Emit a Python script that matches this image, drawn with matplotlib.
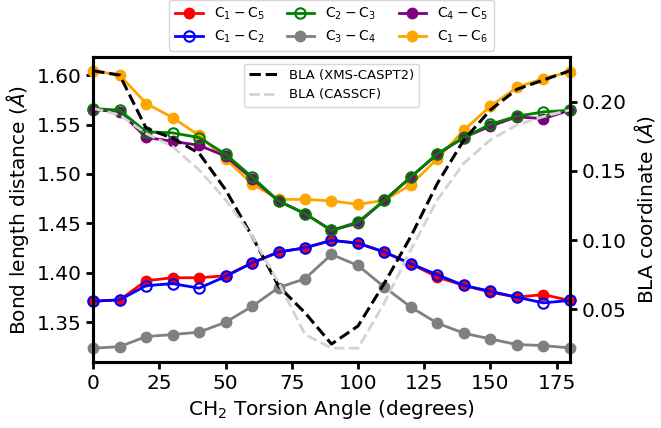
import numpy as np
import matplotlib.pyplot as plt

angle = [0, 10, 20, 30, 40, 50, 60, 70, 80, 90, 100, 110, 120, 130, 140, 150, 160, 170, 180]

c1_c5 = [1.3713, 1.3726, 1.392, 1.395, 1.395, 1.397, 1.410, 1.421, 1.4253, 1.4328,
         1.430, 1.421, 1.4091, 1.3956, 1.3872, 1.3804, 1.3753, 1.378, 1.372]
c1_c2 = [1.3713, 1.3726, 1.387, 1.389, 1.3845, 1.3963, 1.410, 1.421, 1.4253, 1.4328,
         1.430, 1.421, 1.4091, 1.398, 1.3872, 1.3814, 1.3753, 1.3696, 1.372]
c2_c3 = [1.5662, 1.5645, 1.5426, 1.5416, 1.5368, 1.520, 1.497, 1.4726, 1.4598, 1.4429,
         1.4514, 1.4733, 1.497, 1.5206, 1.5368, 1.5503, 1.5584, 1.5628, 1.5645]
c3_c4 = [1.3237, 1.3253, 1.3355, 1.3375, 1.340, 1.350, 1.366, 1.385, 1.394, 1.4186,
         1.4074, 1.3855, 1.3652, 1.349, 1.3389, 1.3331, 1.3274, 1.3264, 1.324]
c4_c5 = [1.565, 1.563, 1.537, 1.533, 1.529, 1.518, 1.4953, 1.4726, 1.460, 1.4429,
         1.4503, 1.4733, 1.497, 1.520, 1.537, 1.5483, 1.5578, 1.556, 1.5645]
c1_c6 = [1.6044, 1.600, 1.5713, 1.557, 1.539, 1.5155, 1.490, 1.4743, 1.4743, 1.4727,
         1.4693, 1.4733, 1.4892, 1.5155, 1.5443, 1.5686, 1.5875, 1.5966, 1.6034]

bla_xms = [0.2223, 0.2192, 0.1808, 0.1736, 0.1628, 0.1364, 0.1028, 0.0668, 0.0476, 0.025,
           0.038, 0.069, 0.1028, 0.141, 0.1724, 0.194, 0.2089, 0.2156, 0.2223]
bla_casscf = [0.1952, 0.1904, 0.177, 0.1676, 0.1508, 0.1292, 0.1028, 0.0692, 0.032, 0.022,
              0.022, 0.0548, 0.0932, 0.1292, 0.1556, 0.1724, 0.1832, 0.1892, 0.194]

fig = plt.figure(figsize=(6.61, 4.28), dpi=100)
ax = fig.add_axes([0.141, 0.154, 0.721, 0.713])

kw = dict(lw=2, markersize=7.5, clip_on=False)
# drawing order: orange, purple, gray, red, blue, green
h6, = ax.plot(angle, c1_c6, 'o-', color='orange', label=r'$\mathrm{C_1-C_6}$', zorder=2, **kw)
h5, = ax.plot(angle, c4_c5, 'o-', color='purple', label=r'$\mathrm{C_4-C_5}$', zorder=3, **kw)
h4, = ax.plot(angle, c3_c4, 'o-', color='gray', label=r'$\mathrm{C_3-C_4}$', zorder=4, **kw)
h1, = ax.plot(angle, c1_c5, 'o-', color='red', label=r'$\mathrm{C_1-C_5}$', zorder=5, **kw)
h2, = ax.plot(angle, c1_c2, 'o-', color='blue', mfc='none', mew=1.5,
              label=r'$\mathrm{C_1-C_2}$', zorder=6, **kw)
h3, = ax.plot(angle, c2_c3, 'o-', color='green', mfc='none', mew=1.5,
              label=r'$\mathrm{C_2-C_3}$', zorder=7, **kw)

ax.set_xlim(0, 180)
ax.set_xticks([0, 25, 50, 75, 100, 125, 150, 175])
ax.set_yticks([1.35, 1.40, 1.45, 1.50, 1.55, 1.60])
ax.set_xlabel(r'CH$_2$ Torsion Angle (degrees)', fontsize=14.5)
ax.set_ylabel(r'Bond length distance ($\AA$)', fontsize=14.5)

ax2 = ax.twinx()
d1, = ax2.plot(angle, bla_xms, '--', color='black', lw=2.2, label='BLA (XMS-CASPT2)')
d2, = ax2.plot(angle, bla_casscf, '--', color='#d3d3d3', lw=2, label='BLA (CASSCF)')
ax2.set_yticks([0.05, 0.10, 0.15, 0.20])
ax2.set_ylabel(r'BLA coordinate ($\AA$)', fontsize=14.5)

for a in (ax, ax2):
    for s in a.spines.values():
        s.set_linewidth(2.2)
    a.tick_params(labelsize=14.5, width=2, length=5)

ax2.legend(handles=[d1, d2], loc='upper center', fontsize=9.5, handlelength=2.2)
ax.legend(handles=[h1, h2, h3, h4, h5, h6], ncol=3, loc='lower center',
          bbox_to_anchor=(0.5, 1.0), fontsize=10, columnspacing=1.6,
          handlelength=2.0, borderaxespad=0.45)

fig.savefig('out.png', dpi=100)
